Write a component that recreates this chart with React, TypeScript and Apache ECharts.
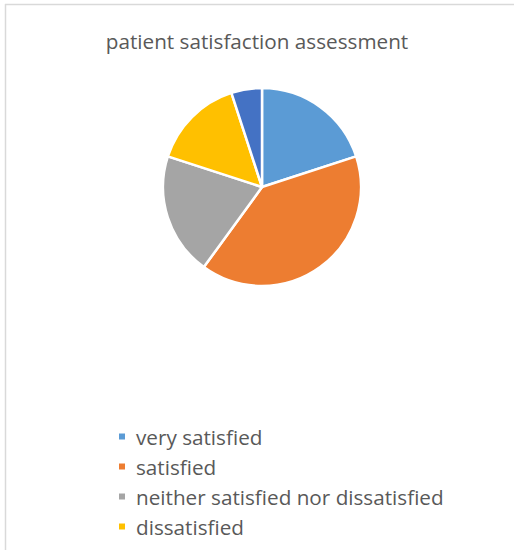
import React, { useEffect, useRef } from "react";
import * as echarts from "echarts";

const titleText = "patient satisfaction assessment";
const categories = [
  "very satisfied",
  "satisfied",
  "neither satisfied nor dissatisfied",
  "dissatisfied",
  "very dissatisfied",
];
const values = [20, 40, 20, 15, 5];
const legendShown = categories.slice(0, 4);
const colors = ["#5B9BD5", "#ED7D31", "#A5A5A5", "#FFC000", "#4472C4"];

export default function App() {
  const ref = useRef<HTMLDivElement>(null);
  useEffect(() => {
    document.body.style.margin = "0";
    const chart = echarts.init(ref.current!, null, { renderer: "svg" });
    chart.setOption({
      animation: false,
      backgroundColor: "#ffffff",
      color: colors,
      title: {
        text: titleText,
        left: "center",
        top: 25,
        textStyle: {
          fontFamily: "Open Sans",
          fontSize: 20.7,
          fontWeight: "normal",
          color: "#595959",
        },
      },
      legend: {
        data: legendShown,
        orient: "vertical",
        left: 112,
        top: 421,
        itemWidth: 8,
        itemHeight: 8,
        itemGap: 9,
        icon: "rect",
        textStyle: {
          fontFamily: "Open Sans",
          fontSize: 20.7,
          color: "#595959",
          lineHeight: 20,
          padding: [0, 0, 0, 5],
        },
      },
      graphic: [
        {
          type: "line",
          shape: { x1: 5, y1: 4.5, x2: 514, y2: 4.5 },
          style: { stroke: "#d9d9d9", lineWidth: 1.5 },
        },
        {
          type: "line",
          shape: { x1: 5.5, y1: 4, x2: 5.5, y2: 550 },
          style: { stroke: "#d9d9d9", lineWidth: 1.5 },
        },
      ],
      series: [
        {
          type: "pie",
          center: [262, 187],
          radius: 99,
          startAngle: 90,
          clockwise: true,
          label: { show: false },
          labelLine: { show: false },
          itemStyle: { borderColor: "#ffffff", borderWidth: 2.5 },
          data: categories.map((name, i) => ({ name, value: values[i] })),
        },
      ],
    });
    return () => chart.dispose();
  }, []);
  return (
    <div
      ref={ref}
      style={{ position: "absolute", left: 0, top: 0, width: 514, height: 550 }}
    />
  );
}
